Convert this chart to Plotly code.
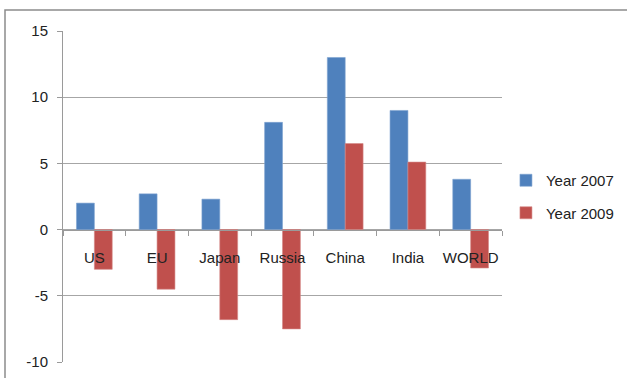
import plotly.graph_objects as go

# GDP growth (%) by economy
regions = ["US", "EU", "Japan", "Russia", "China", "India", "WORLD"]
growth_2007 = [2.0, 2.7, 2.3, 8.1, 13.0, 9.0, 3.8]
growth_2009 = [-3.0, -4.5, -6.8, -7.5, 6.5, 5.1, -2.9]
y_ticks = [-10, -5, 0, 5, 10, 15]
y_tick_labels = ["-10", "-5", "0", "5", "10", "15"]

BLUE = "#4F81BD"
RED = "#C0504D"
FONT = "Liberation Sans, Arial, sans-serif"

fig = go.Figure()
fig.add_trace(go.Bar(
    name="Year 2007", x=regions, y=growth_2007,
    marker=dict(color=BLUE, line=dict(color="#7EA2D0", width=0.6)),
    legendgroup="a",
))
fig.add_trace(go.Bar(
    name="Year 2009", x=regions, y=growth_2009,
    marker=dict(color=RED, line=dict(color="#D58A88", width=0.6)),
    legendgroup="b",
))

y_min, y_max = y_ticks[0], y_ticks[-1]
zero_pos = (0 - y_min) / (y_max - y_min)

fig.update_layout(
    width=627, height=378,
    margin=dict(l=63, r=125, t=31, b=16, autoexpand=False),
    paper_bgcolor="white", plot_bgcolor="white",
    barmode="group", bargap=0.43, bargroupgap=0,
    font=dict(family=FONT, size=15, color="#222222"),
    showlegend=True,
    legend=dict(
        x=1.009, xanchor="left", y=0.5, yanchor="middle",
        font=dict(family=FONT, size=15, color="#222222"),
        tracegroupgap=10, itemwidth=30,
        bgcolor="rgba(0,0,0,0)",
    ),
    xaxis=dict(
        anchor="free", position=zero_pos,
        showline=True, linecolor="#9A9A9A", linewidth=1,
        ticks="outside", ticklen=5, tickcolor="#9A9A9A",
        tickson="boundaries", showgrid=False, zeroline=False,
        tickangle=0, automargin=False,
        ticklabelstandoff=14,
        tickfont=dict(family=FONT, size=15, color="#222222"),
    ),
    yaxis=dict(
        range=[y_min, y_max], tickvals=y_ticks, ticktext=y_tick_labels,
        showline=True, linecolor="#9A9A9A", linewidth=1,
        ticks="outside", ticklen=5, tickcolor="#9A9A9A",
        showgrid=True, gridcolor="#A6A6A6", gridwidth=1,
        zeroline=False, automargin=False,
        ticklabelstandoff=6,
        tickfont=dict(family=FONT, size=15, color="#222222"),
    ),
    shapes=[dict(
        type="rect", xref="paper", yref="paper",
        x0=(5 - 63) / 439, x1=1.5, y0=-0.5, y1=(362 - 10) / 331,
        line=dict(color="#8C8C8C", width=1.5), fillcolor="rgba(0,0,0,0)",
        layer="below",
    )],
)

fig.write_html("out.html")
